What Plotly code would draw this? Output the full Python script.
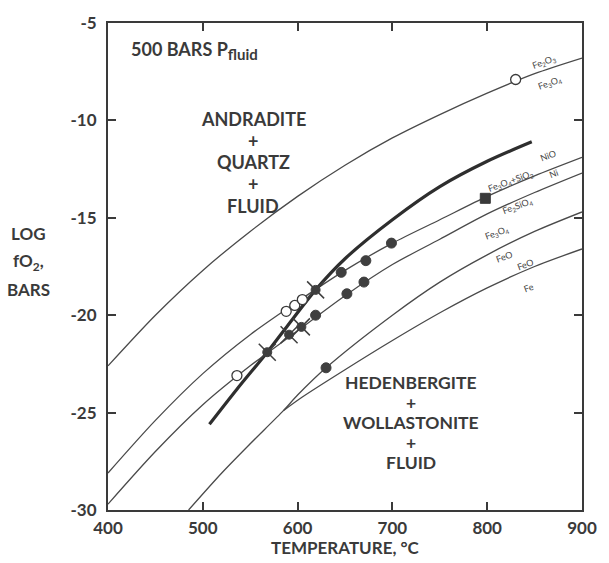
import plotly.graph_objects as go

# ---- buffer curves (T in deg C, log fO2) ----
hm_T = [400, 450, 500, 550, 600, 650, 700, 750, 800, 850, 900]
hm_f = [-22.6, -20.0, -17.7, -15.7, -13.9, -12.3, -10.9, -9.7, -8.6, -7.6, -6.8]

nno_T = [400, 450, 500, 550, 600, 650, 700, 750, 800, 850, 900]
nno_f = [-28.1, -25.4, -23.0, -21.0, -19.3, -17.7, -16.3, -15.1, -13.9, -12.85, -11.9]

fmq_T = [400, 450, 500, 550, 600, 650, 700, 750, 800, 850, 900]
fmq_f = [-29.7, -27.0, -24.6, -22.6, -20.8, -19.0, -17.4, -16.1, -14.8, -13.7, -12.7]

mw_T = [485, 520, 550, 585, 600, 630, 700, 750, 800, 850, 900]
mw_f = [-30.0, -28.1, -26.6, -24.9, -24.1, -22.7, -20.0, -18.3, -16.9, -15.7, -14.7]

wi_T = [585, 605, 650, 700, 753, 800, 850, 900]
wi_f = [-24.9, -24.2, -22.8, -21.3, -19.8, -18.6, -17.5, -16.6]

thick_T = [507, 536, 568, 590, 619, 650, 700, 750, 800, 847]
thick_f = [-25.6, -23.8, -21.9, -20.5, -18.7, -17.1, -15.1, -13.4, -12.1, -11.1]

# ---- experimental points ----
open_T = [536, 588, 597, 605, 830]
open_f = [-23.1, -19.8, -19.5, -19.2, -7.9]

cross_T = [568, 591, 604, 619]
cross_f = [-21.9, -21.0, -20.6, -18.7]

filled_T = [619, 646, 652, 670, 672, 699, 630]
filled_f = [-20.0, -17.8, -18.9, -18.3, -17.2, -16.3, -22.7]

square_T = [798]
square_f = [-14.0]

x_ticks = [400, 500, 600, 700, 800, 900]
y_ticks = [-5, -10, -15, -20, -25, -30]

INK = "#3a3a3a"
FONT = "Lato"

fig = go.Figure()

thin = dict(color="#4a4a4a", width=1.3)
for T, f in [(hm_T, hm_f), (nno_T, nno_f), (fmq_T, fmq_f), (mw_T, mw_f), (wi_T, wi_f)]:
    fig.add_trace(go.Scatter(x=T, y=f, mode="lines", line=dict(shape="spline", smoothing=0.8, **thin),
                             hoverinfo="skip", showlegend=False))

fig.add_trace(go.Scatter(x=thick_T, y=thick_f, mode="lines",
                         line=dict(color="#2e2e2e", width=3.2, shape="spline", smoothing=0.8),
                         showlegend=False))

fig.add_trace(go.Scatter(x=open_T, y=open_f, mode="markers",
                         marker=dict(symbol="circle", size=10, color="white",
                                     line=dict(color=INK, width=1.3)), showlegend=False))
fig.add_trace(go.Scatter(x=filled_T, y=filled_f, mode="markers",
                         marker=dict(symbol="circle", size=10, color="#3f3f3f",
                                     line=dict(color="#3f3f3f", width=1)), showlegend=False))
fig.add_trace(go.Scatter(x=cross_T, y=cross_f, mode="markers",
                         marker=dict(symbol="circle", size=9, color="#3f3f3f",
                                     line=dict(color="#3f3f3f", width=1)), showlegend=False))
fig.add_trace(go.Scatter(x=cross_T, y=cross_f, mode="markers",
                         marker=dict(symbol="x-thin", size=17, color="#3f3f3f",
                                     line=dict(color="#3f3f3f", width=1.5)), showlegend=False))
fig.add_trace(go.Scatter(x=square_T, y=square_f, mode="markers",
                         marker=dict(symbol="square", size=10, color="#3a3a3a",
                                     line=dict(color="#3a3a3a", width=1)), showlegend=False))

axis_common = dict(showgrid=False, zeroline=False, showline=True, linecolor=INK, linewidth=2,
                   mirror="ticks", ticks="inside", ticklen=8, tickwidth=1.6, tickcolor=INK,
                   tickfont=dict(family=FONT, size=17, color=INK, weight="bold"))

fig.update_xaxes(range=[400, 900], tickvals=x_ticks, ticktext=[str(v) for v in x_ticks],
                 ticklabelstandoff=2, **axis_common)
fig.update_yaxes(range=[-30, -5], tickvals=y_ticks, ticktext=[str(v) for v in y_ticks],
                 ticklabelstandoff=6, **axis_common)

ann = []
def txt(x, y, t, size=16, xref="paper", yref="paper", xanchor="center", **kw):
    ann.append(dict(x=x, y=y, xref=xref, yref=yref, text=t, showarrow=False,
                    xanchor=xanchor, yanchor="middle",
                    font=dict(family=FONT, size=size, color=INK, weight="bold"), **kw))

txt(0.045, 0.944, "500 BARS P<sub><span style='font-size:15px'>fluid</span></sub>", size=18, xanchor="left")
for i, t in enumerate(["ANDRADITE", "+", "QUARTZ", "+", "FLUID"]):
    txt(0.306, 0.803 - i * 0.0445, t, size=18)
for i, t in enumerate(["HEDENBERGITE", "+", "WOLLASTONITE", "+", "FLUID"]):
    txt(0.64, 0.2626 - i * 0.0415, t, size=17.5)

# small curve labels
def lab(x, y, t, ang=-20):
    ann.append(dict(x=x, y=y, xref="x", yref="y", text=t, showarrow=False, textangle=ang,
                    xanchor="center", yanchor="middle",
                    font=dict(family=FONT, size=9, color="#444")))

lab(860, -7.0, "Fe<sub>2</sub>O<sub>3</sub>")
lab(866, -8.1, "Fe<sub>3</sub>O<sub>4</sub>")
lab(864, -11.8, "NiO")
lab(870, -12.7, "Ni")
lab(825, -13.1, "Fe<sub>3</sub>O<sub>4</sub>+SiO<sub>2</sub>")
lab(832, -14.4, "Fe<sub>2</sub>SiO<sub>4</sub>")
lab(810, -15.8, "Fe<sub>3</sub>O<sub>4</sub>")
lab(818, -17.0, "FeO")
lab(840, -17.4, "FeO")
lab(844, -18.6, "Fe")

# axis titles
for t, yy in [("LOG", 0.568), ("fO<sub>2</sub>,", 0.51), ("BARS", 0.452)]:
    txt(-0.168, yy, t, size=17)
txt(0.5, -0.077, "TEMPERATURE, °C", size=17)

fig.update_layout(
    width=609, height=563,
    margin=dict(l=108, r=17, t=15, b=53),
    paper_bgcolor="white", plot_bgcolor="white",
    annotations=ann,
)

fig.write_html("out.html")
